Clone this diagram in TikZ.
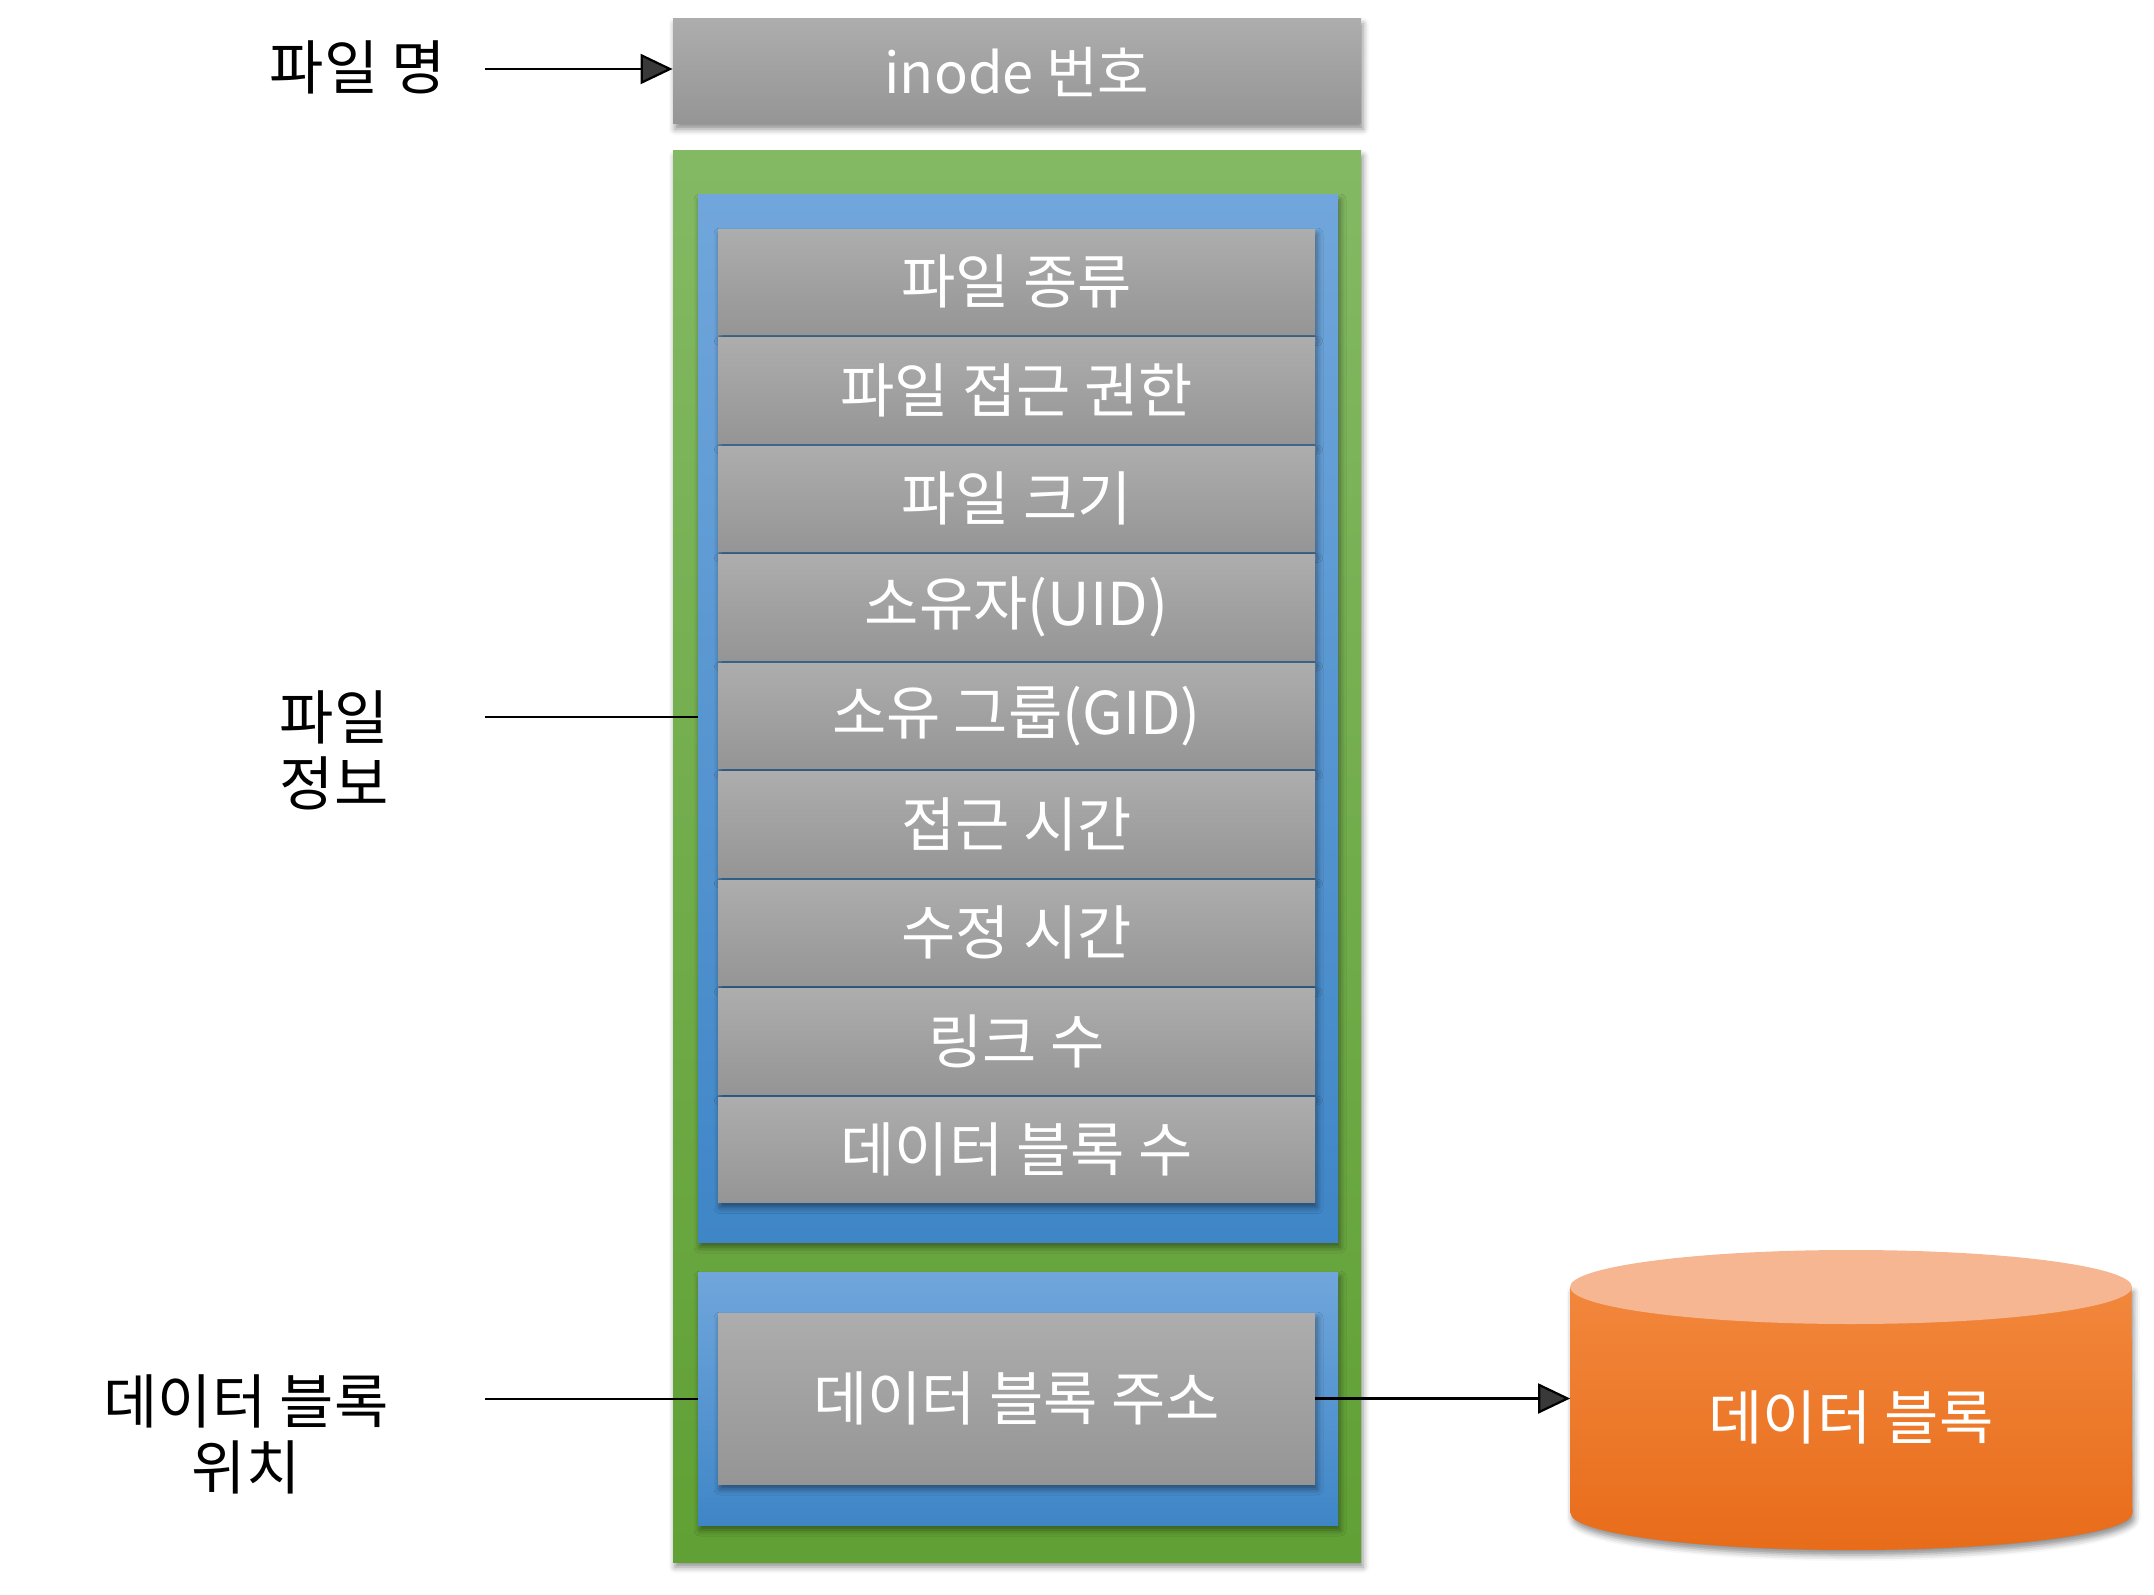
\documentclass[tikz,border=0pt]{standalone}
\usepackage{fontspec}
\setmainfont{Noto Sans CJK KR}
\usetikzlibrary{shadows.blur, arrows.meta}
\definecolor{greyT}{RGB}{173,173,173}
\definecolor{greyB}{RGB}{149,149,149}
\definecolor{greenT}{RGB}{131,185,99}
\definecolor{greenB}{RGB}{96,160,52}
\definecolor{blueT}{RGB}{112,166,219}
\definecolor{blueB}{RGB}{63,134,199}
\definecolor{orT}{RGB}{242,135,60}
\definecolor{orB}{RGB}{232,108,26}
\definecolor{orTop}{RGB}{246,182,146}
\begin{document}
\begin{tikzpicture}[x=0.5pt,y=-0.5pt,
  shd/.style={blur shadow={shadow xshift=1pt, shadow yshift=-2.5pt, shadow blur radius=3pt, shadow opacity=45}},
  big/.style={font=\fontsize{29.5}{33}\selectfont},
  greybox/.style={rectangle, inner sep=0pt, minimum width=298.5pt, shading=axis, top color=greyT, bottom color=greyB, text=white, big, shd},
  greenbox/.style={rectangle, inner sep=0pt, shading=axis, top color=greenT, bottom color=greenB, shd},
  bluebox/.style={rectangle, inner sep=0pt, minimum width=320pt, shading=axis, top color=blueT, bottom color=blueB, shd},
  lbl/.style={big, align=center, inner sep=0pt},
  conn/.style={line width=1.1pt},
  arr/.style={line width=1.1pt, -{Triangle[length=16pt,width=15pt]}}]
\useasboundingbox (0,0) rectangle (2154,1595);
% inode box
\node[greybox, minimum width=344pt, minimum height=52.5pt, font=\fontsize{28}{33}\selectfont] (inode) at (1017,71.5) {inode 번호};
% green container
\node[greenbox, minimum width=344pt, minimum height=705.5pt] (green) at (1017,856.5) {};
% blue boxes
\node[bluebox, minimum height=523.5pt] (blue1) at (1018,718.5) {};
\node[bluebox, minimum height=126.5pt] (blue2) at (1018,1398.5) {};
% rows
\foreach \t [count=\i] in {파일 종류,파일 접근 권한,파일 크기,소유자(UID),소유 그룹(GID),접근 시간,수정 시간,링크 수,데이터 블록 수}{
  \node[greybox, minimum height=52.75pt] (r\i) at (1016.5,{229+108.5*(\i-1)+52.75}) {\t};
}
\node[greybox, minimum height=85.5pt] (addr) at (1016.5,1398.5) {데이터 블록 주소};
% cylinder
\path[shd, shading=axis, top color=orT, bottom color=orB]
  (1570.5,1287) -- (1570.5,1513) arc[start angle=180, end angle=360, x radius=140.5pt, y radius=18.5pt]
  -- (2131.5,1287) -- cycle;
\fill[orTop] (1851,1287) ellipse[x radius=140.5pt, y radius=18.5pt];
\node[big, text=white, inner sep=0pt, minimum width=280.5pt] (db) at (1851,1417) {데이터 블록};
% left labels
\node[lbl] (lname) at (358,67) {파일 명};
\node[lbl] (linfo) at (334,750) {파일\\정보};
\node[lbl] (lloc) at (246,1434) {데이터 블록\\위치};
\coordinate (s1) at (485,69);
\coordinate (s2) at (485,717);
\coordinate (s3) at (485,1399);
\draw[arr] (s1) -- (inode.west |- s1);
\draw[conn] (s2) -- (blue1.west |- s2);
\draw[conn] (s3) -- (blue2.west |- s3);
\draw[arr] (addr.east) -- (db.west |- addr.east);
\end{tikzpicture}
\end{document}
